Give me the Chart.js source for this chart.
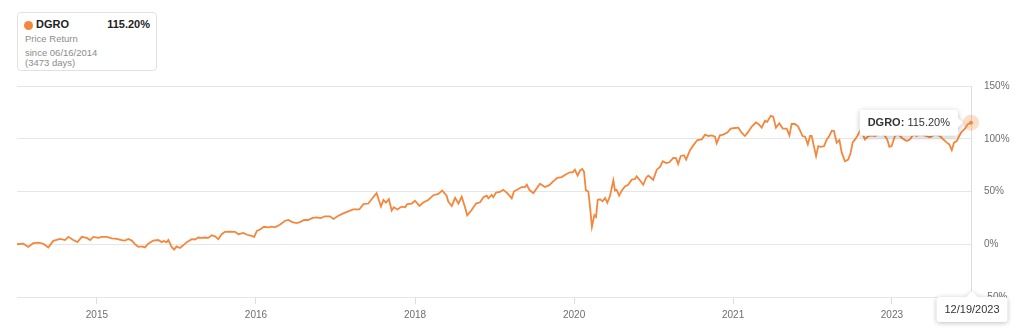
<!DOCTYPE html>
<html>
<head>
<meta charset="utf-8">
<script src="https://cdn.jsdelivr.net/npm/chart.js@4"></script>
<style>
  body { margin: 0; background: #fff; font-family: "Liberation Sans", Arial, sans-serif; }
  #wrap { position: relative; width: 1024px; height: 336px; }
  #legendBox {
    position: absolute; left: 17px; top: 12px; width: 140px; height: 59px;
    border: 1px solid #e2e2e2; border-radius: 4px; box-sizing: border-box; background: #fff;
  }
  #legendBox .dot { position: absolute; left: 6px; top: 8px; width: 9px; height: 9px; border-radius: 50%; background: #f5873d; }
  #legendBox .name { position: absolute; left: 18px; top: 5px; font-size: 11px; font-weight: bold; color: #222; }
  #legendBox .val { position: absolute; right: 6px; top: 5px; font-size: 11px; font-weight: bold; color: #222; }
  #legendBox .sub { position: absolute; left: 7px; font-size: 9.5px; color: #8c8c8c; }
</style>
</head>
<body>
<div id="wrap">
  <canvas id="chart"></canvas>
  <div id="legendBox">
    <span class="dot"></span>
    <span class="name" id="lgName"></span>
    <span class="val" id="lgVal"></span>
    <span class="sub" style="top:20px">Price Return</span>
    <span class="sub" id="lgSince" style="top:34px"></span>
    <span class="sub" id="lgDays" style="top:44px"></span>
  </div>
</div>
<script>
// series info
const seriesName = 'DGRO';
const startDate = '06/16/2014';
const endDate = '12/19/2023';
const totalDays = 3473;

// days since start date for each reading
const days = [
  0, 23, 41, 59, 78, 96, 114, 132, 157, 175, 187, 205, 220, 236, 254, 266, 278, 296, 308, 327,
  345, 363, 381, 393, 405, 418, 430, 442, 454, 466, 478, 496, 514, 527,
  533, 545, 551, 563, 572, 581, 593, 605, 618, 636, 648, 660, 672, 684, 696, 709, 721, 733, 745, 757,
  775, 794, 806, 824, 838, 854, 864, 873, 885, 899, 915, 927, 939, 957, 976, 988, 1002, 1018, 1030, 1045,
  1060, 1076, 1091, 1106,
  1121, 1139, 1152, 1170, 1188, 1206, 1224, 1246, 1261, 1279, 1291, 1309, 1325, 1334, 1343, 1354, 1364, 1372, 1385, 1400,
  1413, 1421, 1437, 1449, 1465, 1479, 1497, 1516, 1534, 1548, 1564, 1570, 1583, 1595, 1607, 1619, 1631, 1639, 1655, 1671, 1686,
  1698, 1710, 1716, 1728, 1734, 1744, 1758, 1770, 1785, 1801, 1809, 1825, 1837, 1849, 1856, 1865, 1880, 1892, 1904, 1922,
  1938, 1952, 1967, 1983, 1999, 2013, 2023, 2031, 2041, 2050, 2058, 2064, 2071, 2080, 2086, 2093, 2102, 2108, 2114, 2122,
  2132, 2141, 2149, 2159, 2171, 2177, 2183, 2192, 2201, 2213, 2225, 2238, 2250, 2256, 2266, 2280, 2290, 2298, 2304,
  2316, 2329, 2341, 2351, 2363, 2375, 2389, 2399, 2407, 2416, 2428, 2436, 2450, 2462, 2477, 2493, 2505, 2517, 2529, 2541,
  2547, 2559, 2571, 2586, 2598, 2614, 2626, 2638, 2650, 2662, 2675, 2690, 2699, 2711, 2723, 2731, 2744, 2753, 2763, 2775,
  2788, 2802, 2812, 2820, 2832, 2844, 2860, 2869, 2879, 2887,
  2893, 2901, 2909, 2917, 2926, 2938, 2948, 2957, 2966, 2974, 2984, 2994, 3002, 3014, 3026, 3035, 3042, 3051, 3059, 3069,
  3079, 3087, 3099, 3111, 3124, 3136, 3148, 3160, 3168, 3176, 3184, 3196, 3208, 3221, 3229, 3239, 3251, 3263, 3275, 3287,
  3306, 3324, 3342, 3360, 3372, 3385, 3394, 3403, 3411, 3421, 3430, 3439, 3451, 3461, 3473
];

// price return in %
const returns = [
  0, 0.5, -2.5, 1, 1.6, 0.5, -3, 3.2, 5, 4, 7, 4, 2, 7, 6, 4, 7, 6, 7, 7,
  5.5, 5, 4, 3.5, 5, 3.5, 0, -2.5, -2, -3, 0.5, 3.5, 4, 2,
  3, 2, 4, -2.5, -5, -2, -3.5, -1, 2, 4.8, 4.5, 6.4, 6, 6.4, 6, 8.6, 7.5, 4.8, 9.5, 11.8,
  12, 11.8, 9.5, 10.8, 9, 8, 7, 12.7, 14, 16.6, 16, 16.6, 16, 18.5, 22.3, 23, 21, 20, 21, 23,
  23, 25, 25.5, 24.8,
  26.5, 26.5, 24, 27, 29.3, 31.2, 33, 33, 38, 38.6, 42.7, 48.5, 35.7, 42, 39.5, 42.7, 31.9, 35, 33, 35.7,
  35, 38, 38.6, 41.2, 36.3, 39.5, 42, 46.5, 47.8, 51, 46, 40.5, 36.3, 44, 38.6, 45, 35, 27.4, 32.5, 38.6, 39.8,
  44.6, 46, 43.5, 46.8, 44.6, 49, 49.6, 51.6, 48.5, 43.5, 50, 52.3, 54.2, 54.2, 56.4, 51.6, 48.5, 53, 57.4, 54.2,
  56, 59.6, 63, 63.7, 66.3, 68.2, 68.2, 70.7, 65, 70, 71.4, 69, 51, 50, 35.7, 16.6, 27.7, 26, 42, 42.6,
  40.7, 43.8, 39.3, 46, 60.5, 51, 51.6, 46, 50.6, 54.8, 56.4, 61.2, 61.8, 64.4, 61.2, 56.4, 62.8, 65, 64,
  61, 70.7, 73.3, 78.7, 77, 77.7, 81.9, 81.6, 76, 83.5, 84.4, 80.3, 89.2, 93.7, 98.8, 99.4, 103.9, 102.6, 103.2, 102,
  95.6, 103.2, 103.9, 105.8, 109.6, 110.2, 110.5, 105.8, 102.6, 106.5, 111.5, 115.4, 114, 110.5, 117, 116, 121.7, 121, 110.5, 114.7,
  109.6, 109.6, 103.2, 114, 114, 111.5, 102.6, 102, 94.6, 102.6,
  102.6, 93, 83.5, 93, 92.4, 93, 99.4, 102.6, 107.4, 107.4, 96.3, 98.8, 87.3, 78.7, 80.3, 86.7, 96.3, 99.4, 102.6, 107.4,
  104.2, 99.4, 102.6, 103.2, 102.6, 104.2, 105.8, 102.6, 99.4, 92.4, 93, 102.6, 104.2, 101, 99.4, 97.8, 99.4, 104.2, 102.6, 104.2,
  103, 101.5, 104, 102.6, 99.4, 96.3, 94.6, 89.2, 96.3, 97.8, 102.6, 106.5, 109.6, 113.8, 115.2
];

// x axis ticks (day offsets) and their labels
const tickDays = [291, 870, 1449, 2028, 2607, 3185];
const tickLabels = ['2015', '2016', '2018', '2020', '2021', '2023'];
const yTicks = [-50, 0, 50, 100, 150];

const orange = '#f5873d';
const lastVal = returns[returns.length - 1].toFixed(2) + '%';

document.getElementById('lgName').textContent = seriesName;
document.getElementById('lgVal').textContent = lastVal;
document.getElementById('lgSince').textContent = 'since ' + startDate;
document.getElementById('lgDays').textContent = '(' + totalDays + ' days)';

const fontFam = '"Liberation Sans", Arial, sans-serif';

// draw hover point + the two tooltips at last point
const hoverPlugin = {
  id: 'hoverTip',
  afterDatasetsDraw(chart) {
    const ctx = chart.ctx;
    const meta = chart.getDatasetMeta(0);
    const pt = meta.data[meta.data.length - 1];
    const px = pt.x, py = pt.y;
    const area = chart.chartArea;

    ctx.save();
    // halo
    ctx.beginPath();
    ctx.arc(px, py, 8, 0, Math.PI * 2);
    ctx.fillStyle = 'rgba(245,135,61,0.28)';
    ctx.fill();
    ctx.beginPath();
    ctx.arc(px, py, 2, 0, Math.PI * 2);
    ctx.fillStyle = orange;
    ctx.fill();

    // value tooltip (left of point)
    ctx.font = 'bold 11px ' + fontFam;
    const lbl = seriesName + ':';
    const w1 = ctx.measureText(lbl).width;
    ctx.font = '11px ' + fontFam;
    const w2 = ctx.measureText(' ' + lastVal).width;
    const bw = w1 + w2 + 16, bh = 26;
    const bx = px - 13 - bw, by = py - 13;
    ctx.shadowColor = 'rgba(0,0,0,0.25)';
    ctx.shadowBlur = 5;
    ctx.shadowOffsetY = 1;
    ctx.fillStyle = '#fff';
    ctx.beginPath();
    ctx.roundRect(bx, by, bw, bh, 3);
    ctx.moveTo(bx + bw, py - 5);
    ctx.lineTo(px - 8, py);
    ctx.lineTo(bx + bw, py + 5);
    ctx.fill();
    ctx.shadowColor = 'transparent';
    ctx.fillStyle = '#333';
    ctx.textBaseline = 'middle';
    ctx.textAlign = 'left';
    ctx.font = 'bold 11px ' + fontFam;
    ctx.fillText(lbl, bx + 8, py + 0.5);
    ctx.font = '11px ' + fontFam;
    ctx.fillText(' ' + lastVal, bx + 8 + w1, py + 0.5);

    // date tooltip below axis
    const dw = 71, dh = 25;
    const dx = px + 1 - dw / 2, dy = area.bottom;
    ctx.shadowColor = 'rgba(0,0,0,0.25)';
    ctx.shadowBlur = 5;
    ctx.shadowOffsetY = 1;
    ctx.fillStyle = '#fff';
    ctx.beginPath();
    ctx.roundRect(dx, dy, dw, dh, 3);
    ctx.moveTo(px - 5, dy);
    ctx.lineTo(px + 1, dy - 6);
    ctx.lineTo(px + 7, dy);
    ctx.fill();
    ctx.shadowColor = 'transparent';
    ctx.fillStyle = '#333';
    ctx.textAlign = 'center';
    ctx.font = '11px ' + fontFam;
    ctx.fillText(endDate, dx + dw / 2, dy + dh / 2 + 0.5);
    ctx.restore();
  }
};

new Chart(document.getElementById('chart'), {
  type: 'line',
  data: {
    datasets: [{
      label: seriesName,
      data: days.map((d, i) => ({ x: d, y: returns[i] })),
      borderColor: orange,
      borderWidth: 1.8,
      pointRadius: 0,
      tension: 0,
      fill: false
    }]
  },
  options: {
    responsive: true,
    maintainAspectRatio: false,
    animation: false,
    events: [],
    layout: { padding: { left: 17, top: 86, right: 0, bottom: 0 } },
    plugins: { legend: { display: false }, tooltip: { enabled: false } },
    scales: {
      x: {
        type: 'linear',
        min: 0,
        max: totalDays,
        afterBuildTicks: (scale) => { scale.ticks = tickDays.map(v => ({ value: v })); },
        afterFit: (scale) => { scale.height = 39; },
        grid: { drawOnChartArea: false, drawTicks: true, tickLength: 7, color: '#dddddd' },
        border: { display: false },
        ticks: {
          autoSkip: false,
          maxRotation: 0,
          padding: 5,
          color: '#6e6e6e',
          font: { family: fontFam, size: 10 },
          callback: (v, i) => tickLabels[i]
        }
      },
      y: {
        position: 'right',
        min: -50,
        max: 150,
        afterBuildTicks: (scale) => { scale.ticks = yTicks.map(v => ({ value: v })); },
        afterFit: (scale) => { scale.width = 53; },
        grid: { color: '#e6e6e6', drawTicks: false },
        border: { display: true, color: '#dddddd' },
        ticks: {
          padding: 13,
          color: '#6e6e6e',
          font: { family: fontFam, size: 10 },
          callback: (v) => v + '%'
        }
      }
    }
  },
  plugins: [hoverPlugin]
});
</script>
</body>
</html>
